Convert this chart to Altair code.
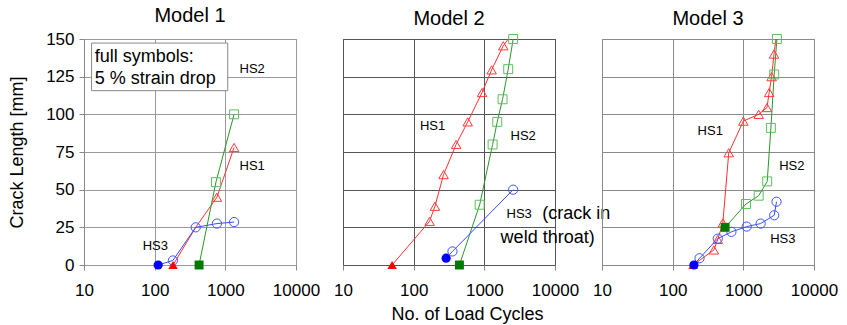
import altair as alt
import pandas as pd

FONT = "Liberation Sans"

models = ["Model 1", "Model 2", "Model 3"]

# ---- Model 1 ----
m1_hs1_x = [182, 381, 760, 1330]
m1_hs1_y = [0, 25, 45, 78]
m1_hs1_m = ["full", "none", "open", "open"]
m1_hs2_x = [425, 736, 1330]
m1_hs2_y = [0, 55, 100]
m1_hs2_m = ["full", "open", "open"]
m1_hs3_x = [112, 181, 381, 760, 1330]
m1_hs3_y = [0, 3, 25, 27.5, 28.5]
m1_hs3_m = ["full", "open", "open", "open", "open"]

# ---- Model 2 ----
m2_hs1_x = [49.5, 168, 200, 265, 399, 582, 929, 1268, 1854, 2178]
m2_hs1_y = [0, 29, 39, 60, 80, 95, 114.5, 129.5, 145.5, 150]
m2_hs1_m = ["full", "open", "open", "open", "open", "open", "open", "open", "open", "none"]
m2_hs2_x = [444, 859, 1309, 1524, 1811, 2178, 2560]
m2_hs2_y = [0, 40, 80, 95, 110, 130, 150]
m2_hs2_m = ["full", "open", "open", "open", "open", "open", "open"]
m2_hs3_x = [288, 354, 2558]
m2_hs3_y = [4.5, 9, 50]
m2_hs3_m = ["full", "open", "open"]

# ---- Model 3 ----
m3_hs1_x = [195, 383, 435, 513, 622, 1000, 1649, 2160, 2323, 2513, 2716, 2900]
m3_hs1_y = [0, 10, 17, 28, 74.5, 95.5, 100, 104.5, 114.5, 125, 140, 150]
m3_hs1_m = ["full", "open", "open", "open", "open", "open", "open", "open", "open", "open", "open", "none"]
m3_hs2_x = [552, 1091, 1649, 2178, 2455, 2735, 2985]
m3_hs2_y = [25, 40.5, 46, 55.5, 91, 126.5, 150]
m3_hs2_m = ["full", "open", "open", "open", "open", "open", "open"]
m3_hs3_x = [200, 240, 435, 678, 1116, 1758, 2735, 2950]
m3_hs3_y = [0, 4.5, 17.5, 22, 25.5, 27.5, 33, 42]
m3_hs3_m = ["full", "open", "open", "open", "open", "open", "open", "open"]

# series labels (model, text, x, y)
label_model = ["Model 1", "Model 1", "Model 1", "Model 2", "Model 2", "Model 2",
               "Model 3", "Model 3", "Model 3"]
label_text = ["HS2", "HS1", "HS3", "HS1", "HS2", "HS3", "HS1", "HS2", "HS3"]
label_x = [2400, 2400, 102, 185, 3540, 3110, 340, 4850, 3620]
label_y = [130, 66, 12.8, 92.4, 85.8, 34, 89, 66, 17.5]

# remark next to HS3 in Model 2 (left-aligned lines)
remark_lines = ["(crack in", "weld throat)"]
remark_x = [6590, 1700]
remark_y = [34, 18.1]

# note box in Model 1
box_x = [12.8]
box_x2 = [1081]
box_y = [115.7]
box_y2 = [147.3]
note_lines = ["full symbols:", "5 % strain drop"]
note_x = [14.2, 14.2]
note_y = [137.8, 123.4]

line_colors = {"HS1": "#ff3030", "HS2": "#2a962a", "HS3": "#3a4cff"}
open_colors = {"HS1": "#ff3b3b", "HS2": "#5cbf5c", "HS3": "#3a55ff"}
full_colors = {"HS1": "#ff0000", "HS2": "#007a00", "HS3": "#0000ff"}
shapes = {"HS1": "triangle-up", "HS2": "square", "HS3": "circle"}
sizes = {"HS1": 90, "HS2": 80, "HS3": 85}

series_data = {
    "Model 1": [("HS1", m1_hs1_x, m1_hs1_y, m1_hs1_m), ("HS2", m1_hs2_x, m1_hs2_y, m1_hs2_m),
                ("HS3", m1_hs3_x, m1_hs3_y, m1_hs3_m)],
    "Model 2": [("HS1", m2_hs1_x, m2_hs1_y, m2_hs1_m), ("HS2", m2_hs2_x, m2_hs2_y, m2_hs2_m),
                ("HS3", m2_hs3_x, m2_hs3_y, m2_hs3_m)],
    "Model 3": [("HS1", m3_hs1_x, m3_hs1_y, m3_hs1_m), ("HS2", m3_hs2_x, m3_hs2_y, m3_hs2_m),
                ("HS3", m3_hs3_x, m3_hs3_y, m3_hs3_m)],
}

rows = []
for model, lst in series_data.items():
    for s, xs, ys, ms in lst:
        for i, (x, y, m) in enumerate(zip(xs, ys, ms)):
            rows.append(dict(model=model, series=s, x=x, y=y, marker=m, i=i,
                             lc=line_colors[s], oc=open_colors[s], fc=full_colors[s],
                             shape=shapes[s], size=sizes[s]))
df = pd.DataFrame(rows)
lab = pd.DataFrame(dict(model=label_model, text=label_text, x=label_x, y=label_y))

grid_colors = {"Model 1": "#9a9a9a", "Model 2": "#555555", "Model 3": "#8a8a8a"}

W, H = 212, 226
YVALS = [0, 25, 50, 75, 100, 125, 150]


def panel(model, first=False, middle=False):
    d = df[df.model == model]
    gc = grid_colors[model]
    xaxis = alt.Axis(values=[10, 100, 1000, 10000], format="d", labelFontSize=17,
                     labelFont=FONT, labelColor="#000", tickSize=5, tickColor="#888",
                     labelPadding=12, grid=True, gridColor=gc, domain=False,
                     labelOverlap=False, labelFlush=False,
                     title="No. of Load Cycles" if middle else None,
                     titleFont=FONT, titleFontSize=18, titleFontWeight="normal",
                     titleColor="#000", titleX=124, titleY=49, titleAlign="center",
                     titleBaseline="middle")
    if first:
        yaxis = alt.Axis(values=YVALS, labelFontSize=17, labelFont=FONT,
                         labelColor="#000", tickSize=5, tickColor="#888", grid=True,
                         gridColor=gc, domain=True, domainColor="#888", labelPadding=5,
                         labelOverlap=False, labelFlush=False,
                         title="Crack Length [mm]", titleFont=FONT, titleFontSize=18,
                         titleFontWeight="normal", titleColor="#000", titleX=-67, titleY=113,
                         titleAngle=-90, titleAlign="center", titleBaseline="middle")
    else:
        yaxis = alt.Axis(values=YVALS, labels=False, ticks=False,
                         grid=True, gridColor=gc, domain=False, title=None)
    xs = alt.Scale(type="log", domain=[10, 10000], nice=False)
    ys = alt.Scale(domain=[0, 150], nice=False)
    X = alt.X("x:Q", scale=xs, axis=xaxis)
    Y = alt.Y("y:Q", scale=ys, axis=yaxis)
    base = alt.Chart(d)
    lines = base.mark_line(strokeWidth=1, clip=True).encode(
        x=X, y=Y, detail="series:N", order="i:Q", color=alt.Color("lc:N", scale=None))
    opens = base.transform_filter(alt.datum.marker == "open").mark_point(
        filled=False, strokeWidth=1, opacity=1).encode(
        x=X, y=Y, color=alt.Color("oc:N", scale=None), shape=alt.Shape("shape:N", scale=None),
        size=alt.Size("size:Q", scale=None))
    fulls = base.transform_filter(alt.datum.marker == "full").mark_point(
        filled=True, opacity=1).encode(
        x=X, y=Y, color=alt.Color("fc:N", scale=None), shape=alt.Shape("shape:N", scale=None),
        size=alt.Size("size:Q", scale=None))
    texts = alt.Chart(lab[lab.model == model]).mark_text(
        font=FONT, fontSize=13, color="#000").encode(x=X, y=Y, text="text:N")
    layers = [lines, opens, fulls, texts]
    if first:
        boxdf = pd.DataFrame(dict(x=box_x, x2=box_x2, y=box_y, y2=box_y2))
        box = alt.Chart(boxdf).mark_rect(fill="white", stroke="#888", strokeWidth=1).encode(
            x=X, x2="x2:Q", y=Y, y2="y2:Q")
        notedf = pd.DataFrame(dict(text=note_lines, x=note_x, y=note_y))
        note = alt.Chart(notedf).mark_text(font=FONT, fontSize=18, color="#000",
                                           align="left").encode(x=X, y=Y, text="text:N")
        layers += [box, note]
    if middle:
        remdf = pd.DataFrame(dict(text=remark_lines, x=remark_x, y=remark_y))
        rem = alt.Chart(remdf).mark_text(font=FONT, fontSize=18, color="#000",
                                         align="left").encode(x=X, y=Y, text="text:N")
        layers += [rem]
    return alt.layer(*layers).properties(
        width=W, height=H,
        title=alt.TitleParams(model, font=FONT, fontSize=20, fontWeight="normal",
                              color="#000", anchor="middle", offset=4),
        view=alt.ViewBackground(stroke=gc))


chart = alt.hconcat(panel("Model 1", first=True), panel("Model 2", middle=True),
                    panel("Model 3"), spacing=47, bounds="flush").properties(
    padding={"left": 7, "top": 5, "right": 5, "bottom": 5},
    background="white")

chart.save("out.html", embed_options={"renderer": "svg", "actions": False})
